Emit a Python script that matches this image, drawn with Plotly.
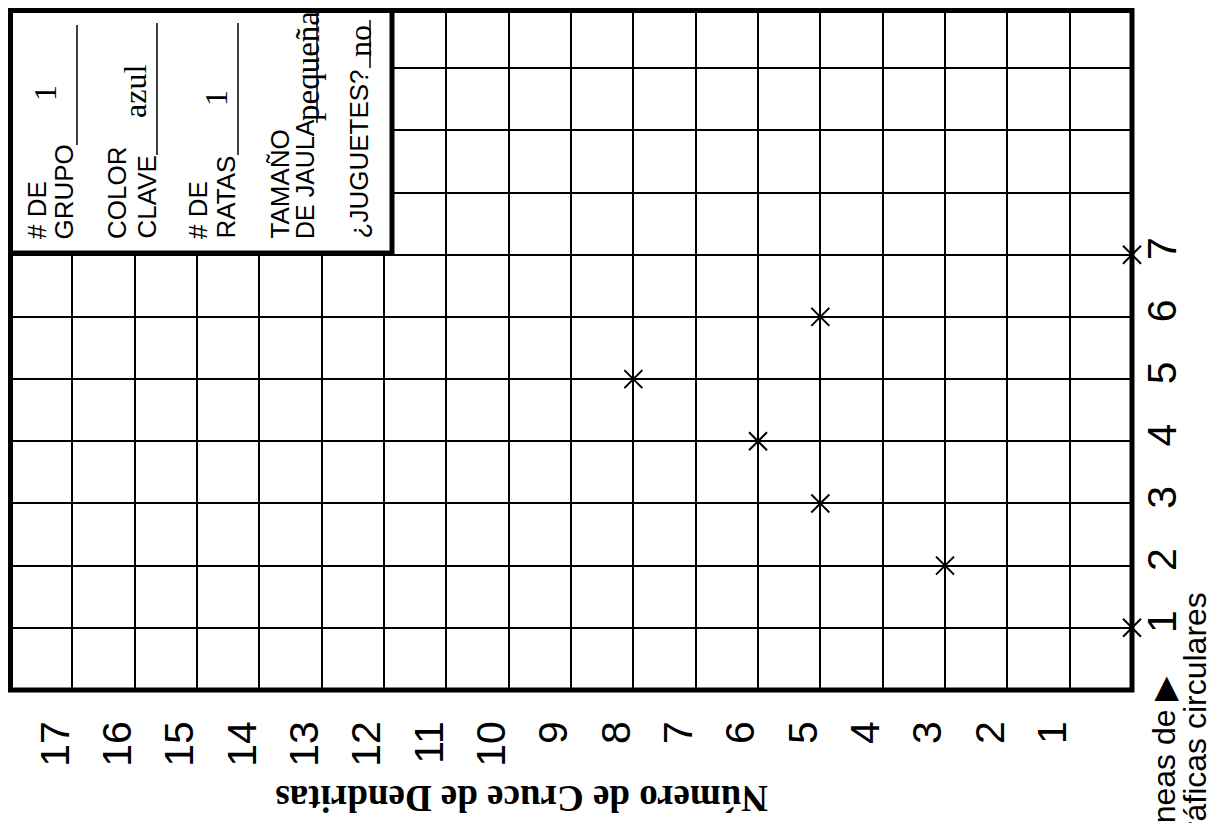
import plotly.graph_objects as go

# ---- data ----
circle_lines = [1, 2, 3, 4, 5, 6, 7]
dendrite_crossings = [0, 3, 5, 6, 8, 5, 0]

x_tick_vals = list(range(1, 18))
x_tick_text = [str(v) for v in x_tick_vals]
y_tick_vals = list(range(1, 11))
y_tick_text = [str(v) if v <= 7 else "" for v in y_tick_vals]

x_title = "Número de Cruce de Dendritas"
y_title_line1 = "Líneas de ▶"
y_title_line2 = "gráficas circulares"

OFF = 8  # page body margin
W, H = 1218 - OFF, 823 - OFF
# plot area in page pixels
PL, PR, PT, PB = 10, 1132, 8, 690
L, R, T, B = PL - OFF, PR - OFF, PT - OFF, PB - OFF
UNIT_Y = (690 - 6) / 11.0
Y_TOP = (PB - PT) / UNIT_Y


def px(x):
    return (x - PL) / (PR - PL)


def py(y):
    return (PB - y) / (PB - PT)


fig = go.Figure()
fig.add_trace(go.Scatter(
    x=dendrite_crossings, y=circle_lines, mode="markers",
    marker=dict(symbol="x-thin", size=18, line=dict(width=2, color="black"), color="black"),
    cliponaxis=False, showlegend=False, hoverinfo="skip"))

SANS = "Liberation Sans"
SERIF = "Liberation Serif"

fig.update_layout(
    width=W, height=H,
    margin=dict(l=L, r=W - R, t=T, b=H - B, pad=0),
    paper_bgcolor="white", plot_bgcolor="white",
    xaxis=dict(range=[18, 0], tickvals=x_tick_vals, ticktext=x_tick_text,
               tickangle=-90, showgrid=True, gridcolor="black", gridwidth=2,
               zeroline=False, showline=False, ticks="", automargin=False,
               tickfont=dict(family=SANS, size=41, color="black"),
               ticklabelstandoff=22, ticklabelshift=17),
    yaxis=dict(range=[0, Y_TOP], tickvals=y_tick_vals, ticktext=y_tick_text,
               side="right", tickangle=-90, showgrid=True, gridcolor="black",
               gridwidth=2, zeroline=False, showline=False, ticks="",
               automargin=False,
               tickfont=dict(family=SANS, size=41, color="black"),
               ticklabelstandoff=2),
)

shapes = []
# plot border
shapes.append(dict(type="rect", xref="paper", yref="paper", x0=px(10.5), x1=1,
                   y0=0, y1=py(10.5),
                   line=dict(color="black", width=5), layer="between"))
# info box
shapes.append(dict(type="rect", xref="paper", yref="paper",
                   x0=px(10.5), x1=px(392), y0=py(253), y1=py(10.5),
                   line=dict(color="black", width=5), fillcolor="white", layer="above"))
# underlines in the info box (vertical because the sheet is rotated)
for ux, uy0, uy1 in [(77, 25, 145), (157, 23, 155), (238, 23, 155), (317, 12, 123), (370, 20, 68)]:
    shapes.append(dict(type="line", xref="paper", yref="paper",
                       x0=px(ux), x1=px(ux), y0=py(uy0), y1=py(uy1),
                       line=dict(color="black", width=1.5), layer="above"))
fig.update_layout(shapes=shapes)

ann = []
# axis titles
ann.append(dict(text="<b>" + x_title + "</b>", xref="paper", yref="paper",
                x=px(522), y=py(799), xanchor="center", yanchor="middle",
                textangle=180, showarrow=False,
                font=dict(family=SERIF, size=37, color="black")))
ann.append(dict(text=y_title_line1, xref="paper", yref="paper",
                x=px(1164), y=py(852), xanchor="center", yanchor="bottom",
                textangle=-90, showarrow=False,
                font=dict(family=SANS, size=32, color="black")))
ann.append(dict(text=y_title_line2, xref="paper", yref="paper",
                x=px(1195), y=py(852), xanchor="center", yanchor="bottom",
                textangle=-90, showarrow=False,
                font=dict(family=SANS, size=32, color="black")))

# info box labels: (text, x centre, y bottom, font, size)
box_items = [
    ("# DE", 37, 241, SANS, 26),
    ("GRUPO", 63, 241, SANS, 26),
    ("COLOR", 117, 241, SANS, 26),
    ("CLAVE", 146, 241, SANS, 26),
    ("# DE", 198, 241, SANS, 26),
    ("RATAS", 225, 241, SANS, 26),
    ("TAMAÑO", 279, 241, SANS, 26),
    ("DE JAULA", 305, 241, SANS, 25),
    ("¿JUGUETES?", 358, 241, SANS, 26),
]
for t, cx, by, fam, sz in box_items:
    ann.append(dict(text=t, xref="paper", yref="paper", x=px(cx), y=py(by),
                    xanchor="center", yanchor="bottom", textangle=-90,
                    showarrow=False, font=dict(family=fam, size=sz, color="black")))

serif_items = [
    ("1", 45, 93, 32),
    ("azul", 135, 92, 32),
    ("1", 216, 98, 32),
    ("pequeña", 308, 66, 33),
    ("no", 360, 41, 32),
]
for t, cx, cy, sz in serif_items:
    ann.append(dict(text=t, xref="paper", yref="paper", x=px(cx), y=py(cy),
                    xanchor="center", yanchor="middle", textangle=-90,
                    showarrow=False, font=dict(family=SERIF, size=sz, color="black")))

fig.update_layout(annotations=ann)
fig.write_html("out.html")
